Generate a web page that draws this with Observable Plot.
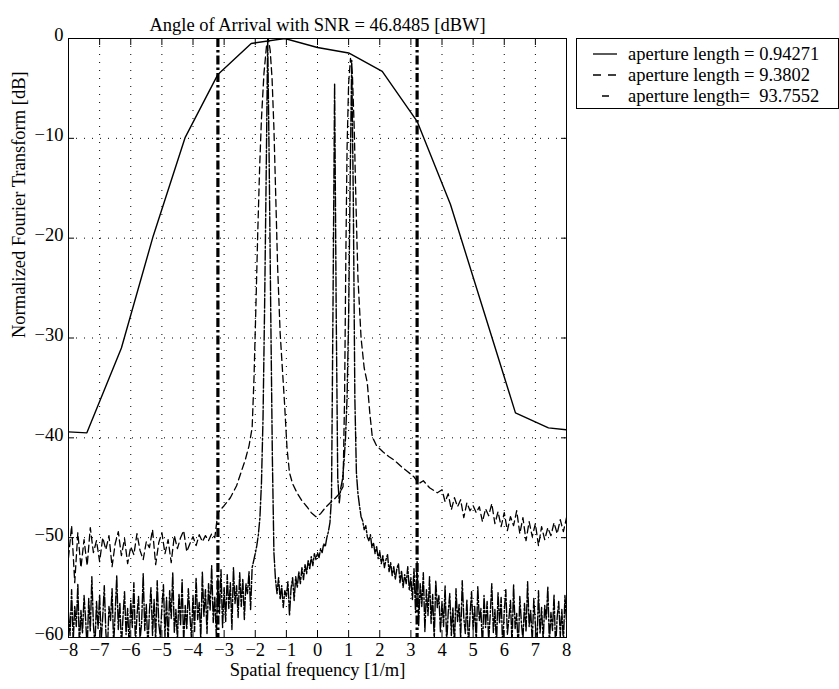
<!DOCTYPE html>
<html>
<head>
<meta charset="utf-8">
<script src="https://cdn.jsdelivr.net/npm/d3@7"></script>
<script src="https://cdn.jsdelivr.net/npm/@observablehq/plot@0.6"></script>
<style>
  html, body { margin: 0; padding: 0; background: #fff; }
  #chart { position: relative; width: 839px; height: 689px; overflow: hidden; }
  #chart svg { display: block; }
  #legend { position: absolute; left: 576px; top: 38px; }
</style>
</head>
<body>
<div id="chart"></div>
<script>
// ---- text ----
const titleText = "Angle of Arrival with SNR = 46.8485 [dBW]";
const xLabel = "Spatial frequency [1/m]";
const yLabel = "Normalized Fourier Transform [dB]";
const legendLabels = [
  "aperture length = 0.94271",
  "aperture length = 9.3802",
  "aperture length=  93.7552"
];

// ---- axes ----
const xTicks = [-8, -7, -6, -5, -4, -3, -2, -1, 0, 1, 2, 3, 4, 5, 6, 7, 8];
const yTicks = [-60, -50, -40, -30, -20, -10, 0];

// visible-region limits (spatial frequency, 1/m)
const regionLimits = [-3.2, 3.2];

// ---- aperture length = 0.94271 (coarse spectrum) ----
const shortFreq = [-8, -7.41, -6.3, -5.28, -4.25, -3.2, -2.13, -1.05, 0, 1.0, 2.08, 3.2, 4.27, 5.33, 6.36, 7.42, 8];
const shortDb   = [-39.4, -39.5, -31.0, -19.8, -9.9, -3.6, -0.5, 0, -0.9, -1.45, -3.3, -8.3, -16.6, -27.2, -37.5, -39.0, -39.2];

// ---- aperture length = 9.3802 ([frequency, dB]) ----
const mediumPts = [
  [-8.0,-52.0],[-7.9,-48.8],[-7.8,-54.5],[-7.7,-49.5],[-7.6,-53.0],[-7.5,-50.2],[-7.4,-52.8],[-7.3,-49.0],
  [-7.2,-51.5],[-7.1,-50.3],[-7.0,-52.4],[-6.9,-50.0],[-6.8,-51.2],[-6.7,-49.8],[-6.6,-52.9],[-6.5,-50.6],
  [-6.4,-49.4],[-6.3,-51.8],[-6.2,-50.1],[-6.1,-52.6],[-6.0,-50.9],[-5.9,-51.7],[-5.8,-49.6],[-5.7,-51.3],
  [-5.6,-52.2],[-5.5,-50.4],[-5.4,-51.0],[-5.3,-49.2],[-5.2,-52.7],[-5.1,-50.5],[-5.0,-49.5],[-4.9,-51.6],
  [-4.8,-50.2],[-4.7,-52.5],[-4.6,-49.8],[-4.5,-51.1],[-4.4,-50.0],[-4.3,-49.3],[-4.2,-51.4],[-4.1,-50.6],
  [-4.0,-49.9],[-3.9,-50.8],[-3.8,-49.7],[-3.7,-50.4],[-3.6,-49.8],[-3.5,-50.3],[-3.4,-49.6],[-3.3,-50.0],
  [-3.2,-47.5],[-3.0,-46.8],[-2.8,-46.0],[-2.6,-44.8],[-2.45,-43.4],[-2.32,-42.2],[-2.2,-40.8],[-2.1,-39.0],
  [-2.04,-34.0],[-1.98,-27.0],[-1.92,-19.5],[-1.86,-13.0],[-1.8,-8.0],[-1.72,-3.5],[-1.64,-0.8],[-1.58,0],
  [-1.52,-1.2],[-1.46,-4.0],[-1.4,-9.0],[-1.34,-16.0],[-1.28,-23.0],[-1.2,-29.5],[-1.12,-33.5],[-1.06,-36.5],
  [-0.98,-41.0],[-0.9,-43.5],[-0.8,-44.6],[-0.66,-45.5],[-0.5,-46.3],[-0.34,-46.9],[-0.2,-47.5],[-0.05,-47.9],
  [0.1,-47.6],[0.25,-47.0],[0.41,-46.5],[0.55,-46.1],[0.7,-45.6],[0.82,-44.9],[0.87,-36.0],[0.91,-22.0],
  [0.95,-11.0],[1.0,-4.5],[1.06,-2.0],[1.12,-3.5],[1.18,-9.0],[1.24,-17.0],[1.3,-24.0],[1.4,-30.0],
  [1.5,-33.0],[1.6,-34.5],[1.68,-37.5],[1.76,-39.9],[1.9,-40.8],[2.1,-41.4],[2.3,-41.9],[2.45,-42.2],
  [2.7,-42.9],[2.9,-43.4],[3.1,-43.9],[3.25,-44.6],[3.4,-44.3],[3.6,-45.0],[3.85,-45.5],[4.0,-45.2],
  [4.1,-46.4],[4.2,-45.6],[4.3,-47.2],[4.4,-46.0],[4.5,-46.9],[4.6,-46.2],[4.7,-48.0],[4.8,-46.5],
  [4.9,-47.3],[5.0,-46.8],[5.1,-47.5],[5.2,-46.9],[5.3,-48.4],[5.4,-47.1],[5.5,-47.8],[5.6,-46.6],
  [5.7,-48.6],[5.8,-47.4],[5.9,-48.9],[6.0,-47.5],[6.1,-49.3],[6.2,-47.9],[6.3,-48.8],[6.4,-47.3],
  [6.5,-49.6],[6.6,-48.0],[6.7,-50.3],[6.8,-48.4],[6.9,-49.9],[7.0,-48.6],[7.1,-50.8],[7.2,-48.9],
  [7.3,-50.2],[7.4,-49.0],[7.5,-49.8],[7.6,-48.5],[7.7,-49.6],[7.8,-48.2],[7.9,-49.4],[8.0,-48.0]
];

// ---- aperture length = 93.7552 (fine spectrum, bins every 0.05 from -8) ----
const longStart = -8;
const longStep = 0.05;
const longDb = [
  // -8 .. -7.05
  -57.5,-59.8,-55.2,-60.5,-56.8,-58.9,-54.6,-61.0,-57.3,-59.6,-55.8,-58.2,-61.2,-56.1,-59.4,-53.9,-58.7,-60.8,-56.4,-59.1,
  // -7 .. -6.05
  -55.7,-60.3,-57.9,-54.8,-59.5,-61.4,-56.9,-58.3,-55.1,-60.7,-57.6,-53.8,-59.2,-56.5,-60.9,-58.0,-55.4,-59.7,-57.1,-61.0,
  // -6 .. -5.05
  -56.3,-59.0,-54.5,-60.6,-57.8,-55.9,-60.2,-58.5,-53.6,-59.3,-56.7,-61.1,-57.4,-55.0,-59.8,-56.2,-60.4,-54.3,-58.6,-60.0,
  // -5 .. -4.05
  -57.0,-54.7,-59.9,-56.0,-60.8,-55.3,-58.1,-53.5,-59.5,-57.2,-60.3,-55.6,-58.8,-54.2,-60.6,-56.8,-59.2,-55.1,-57.7,-60.1,
  // -4 .. -3.05
  -55.8,-59.4,-54.0,-58.2,-56.5,-60.2,-53.4,-57.9,-55.2,-59.6,-54.6,-57.3,-52.8,-58.5,-55.9,-60.0,-54.1,-57.6,-53.2,-59.0,
  // -3 .. -2.05
  -55.0,-58.4,-53.7,-57.1,-54.5,-59.2,-53.0,-56.6,-54.8,-58.0,-53.5,-56.9,-54.1,-58.2,-54.6,-55.6,-53.4,-57.2,-53.0,-52.3,
  // -2 .. -1.05
  -51.6,-50.8,-49.7,-48.0,-44.5,-38.0,-27.0,-14.0,0,-13.0,-28.0,-42.0,-51.5,-54.2,-55.6,-54.0,-56.2,-54.8,-57.0,-55.3,
  // -1 .. -0.05
  -55.9,-54.4,-57.8,-55.1,-54.0,-56.3,-53.9,-55.0,-53.4,-54.6,-53.0,-54.2,-52.7,-53.6,-52.3,-53.1,-51.9,-52.8,-51.6,-52.2,
  // 0 .. 0.95
  -51.5,-52.0,-51.1,-51.5,-50.6,-50.9,-50.0,-49.4,-48.5,-46.0,-26.0,-4.5,-27.0,-44.0,-46.5,-45.0,-44.2,-42.5,-40.0,-36.0,
  // 1 .. 1.95
  -28.0,-14.0,-2.2,-16.0,-36.0,-43.5,-45.6,-46.8,-47.9,-48.3,-49.2,-48.8,-49.9,-50.3,-49.7,-51.0,-50.5,-51.6,-50.9,-52.1,
  // 2 .. 2.95
  -51.4,-52.6,-51.8,-53.0,-52.2,-51.7,-53.4,-52.5,-53.8,-52.9,-54.2,-53.1,-52.6,-54.5,-53.3,-55.0,-53.7,-54.6,-52.9,-55.3,
  // 3 .. 3.95
  -54.0,-56.2,-53.1,-57.5,-52.4,-58.8,-54.6,-56.9,-53.5,-59.4,-55.2,-57.8,-53.9,-58.6,-55.7,-60.3,-54.3,-57.0,-55.8,-59.5,
  // 4 .. 4.95
  -56.4,-58.9,-54.8,-60.7,-57.5,-55.6,-59.8,-57.0,-61.2,-55.1,-58.4,-56.7,-60.1,-54.3,-58.0,-59.6,-56.2,-61.0,-57.8,-55.4,
  // 5 .. 5.95
  -59.2,-56.9,-60.6,-54.9,-58.3,-57.1,-61.3,-55.8,-59.0,-56.4,-60.4,-57.7,-54.6,-59.5,-57.2,-60.9,-55.5,-58.6,-56.0,-61.1,
  // 6 .. 6.95
  -57.4,-55.2,-59.7,-58.1,-56.3,-60.8,-54.7,-59.1,-57.6,-61.4,-55.9,-58.5,-60.2,-56.6,-59.4,-54.4,-58.9,-57.3,-60.5,-56.1,
  // 7 .. 7.95
  -58.7,-61.0,-55.3,-59.6,-57.0,-60.3,-56.8,-58.2,-54.9,-60.7,-57.5,-59.3,-55.7,-61.2,-58.0,-56.4,-59.9,-57.2,-60.6,-55.8,
  // 8
  -58.4
];

// ---- tables for the marks ----
const shortTable = shortFreq.map((f, i) => ({f, db: shortDb[i]}));
const mediumTable = mediumPts.map(([f, db]) => ({f, db}));
const longTable = longDb.map((db, i) => ({f: +(longStart + i * longStep).toFixed(2), db}));

const serif = "'Liberation Serif', 'Times New Roman', serif";
const inner = xTicks.filter(t => t > xTicks[0] && t < xTicks[xTicks.length - 1]);
const innerY = yTicks.filter(t => t > yTicks[0] && t < yTicks[yTicks.length - 1]);
const blank = () => "";

const chart = Plot.plot({
  width: 839,
  height: 689,
  marginLeft: 68,
  marginRight: 273,
  marginTop: 38,
  marginBottom: 52,
  style: {fontFamily: serif, fontSize: "18.5px", background: "#fff", color: "#000"},
  x: {domain: [-8, 8]},
  y: {domain: [-60, 0]},
  marks: [
    Plot.gridX(inner, {stroke: "#000", strokeOpacity: 1, strokeWidth: 1, strokeDasharray: "1,7"}),
    Plot.gridY(innerY, {stroke: "#000", strokeOpacity: 1, strokeWidth: 1, strokeDasharray: "1,7"}),
    Plot.ruleX(regionLimits, {x: d => d, stroke: "#000", strokeWidth: 3.2, strokeDasharray: "9,3,2.5,3"}),
    Plot.line(longTable, {x: "f", y: "db", stroke: "#000", strokeWidth: 1.4, strokeDasharray: "10,2,2,2", clip: true}),
    Plot.line(mediumTable, {x: "f", y: "db", stroke: "#000", strokeWidth: 1.3, strokeDasharray: "7,4", clip: true}),
    Plot.line(shortTable, {x: "f", y: "db", stroke: "#000", strokeWidth: 1.4, clip: true}),
    Plot.frame({stroke: "#000", strokeWidth: 1}),
    Plot.axisX(xTicks, {anchor: "bottom", tickSize: 0, tickPadding: 5, label: null}),
    Plot.axisX(xTicks, {anchor: "bottom", tickSize: -6, tickFormat: blank, label: null}),
    Plot.axisX(xTicks, {anchor: "top", tickSize: -6, tickFormat: blank, label: null}),
    Plot.axisY(yTicks, {anchor: "left", tickSize: 0, tickPadding: 5, dy: -3, label: null}),
    Plot.axisY(yTicks, {anchor: "left", tickSize: -6, tickFormat: blank, label: null}),
    Plot.axisY(yTicks, {anchor: "right", tickSize: -6, tickFormat: blank, label: null}),
    Plot.text([titleText], {text: d => d, frameAnchor: "top", dy: -21, fontSize: 18.5}),
    Plot.text([xLabel], {text: d => d, frameAnchor: "bottom", dy: 38, fontSize: 18.5}),
    Plot.text([yLabel], {text: d => d, frameAnchor: "left", dx: -49, rotate: -90, fontSize: 18.5})
  ]
});
document.getElementById("chart").appendChild(chart);

// ---- legend box ----
const sampleDash = [null, "8,7", "0,9,7,30"];
const leg = d3.select("#chart").append("svg")
  .attr("id", "legend")
  .attr("width", 263)
  .attr("height", 71)
  .style("font-family", serif)
  .style("font-size", "18.5px");
leg.append("rect")
  .attr("x", 0.5).attr("y", 0.5)
  .attr("width", 262).attr("height", 70)
  .attr("fill", "#fff").attr("stroke", "#000");
legendLabels.forEach((label, i) => {
  const g = leg.append("g").attr("transform", `translate(0,${16 + i * 21})`);
  g.append("line")
    .attr("x1", 17).attr("x2", 41).attr("y1", 0).attr("y2", 0)
    .attr("stroke", "#000").attr("stroke-width", 1.3)
    .attr("stroke-dasharray", sampleDash[i]);
  g.append("text")
    .attr("x", 52).attr("y", 0).attr("dy", "0.35em")
    .attr("xml:space", "preserve")
    .style("white-space", "pre")
    .text(label);
});
</script>
</body>
</html>
